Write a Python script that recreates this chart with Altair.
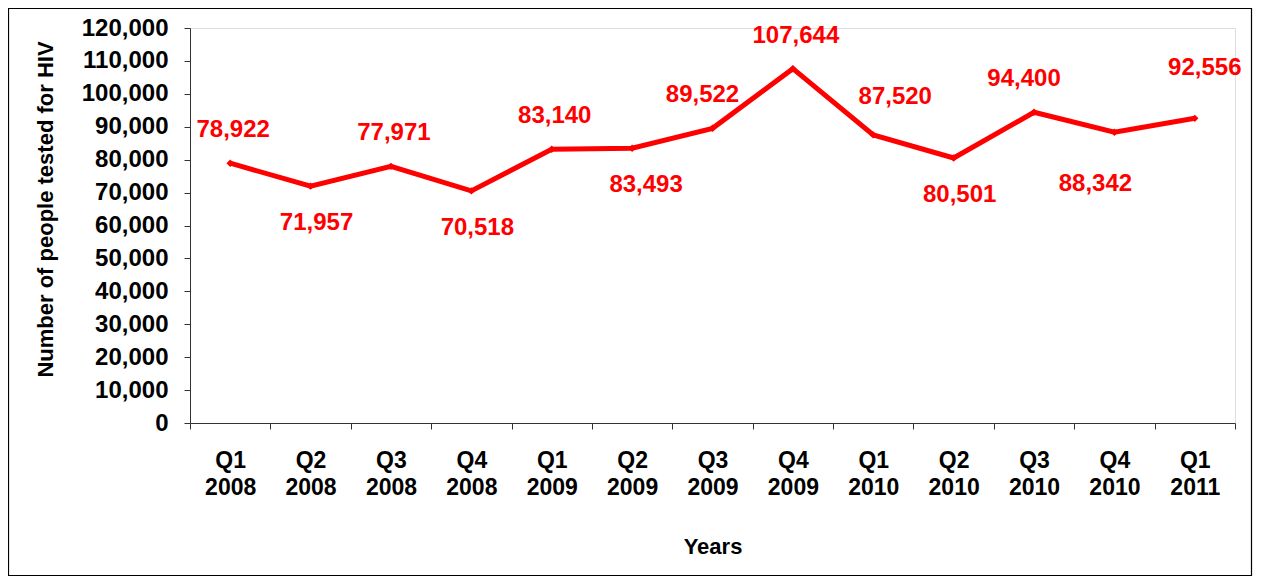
import altair as alt
import pandas as pd

quarters = ["Q1 2008", "Q2 2008", "Q3 2008", "Q4 2008", "Q1 2009", "Q2 2009",
            "Q3 2009", "Q4 2009", "Q1 2010", "Q2 2010", "Q3 2010", "Q4 2010", "Q1 2011"]
tested = [78922, 71957, 77971, 70518, 83140, 83493, 89522, 107644, 87520,
          80501, 94400, 88342, 92556]
label_side = ["above", "below", "above", "below", "above", "below right", "above left",
              "above", "above right", "below", "above left", "below left", "high above"]
y_ticks = list(range(0, 120001, 10000))

df = pd.DataFrame({"quarter": quarters, "tested": tested, "side": label_side})

W, H = 1045, 395
PL, PT, PR, PB = 182, 20, 18, 153

FONT = "Liberation Sans"
RED = "#FF0000"

# label nudges (style) per placement name
NUDGE = {
    "above": (3, -33),
    "below": (6, 37),
    "below right": (14, 37),
    "above left": (-10, -33),
    "above right": (22, -38),
    "below left": (-19, 52),
    "high above": (10, -50),
}

x_enc = alt.X(
    "quarter:N", sort=quarters, bandPosition=0.5,
    scale=alt.Scale(type="band", paddingInner=0, paddingOuter=0),
    axis=alt.Axis(
        title="Years", tickBand="extent", labelAngle=0,
        labelExpr="split(datum.label, ' ')", labelLineHeight=27,
        labelFont=FONT, labelFontSize=23, labelFontWeight="bold", labelColor="black",
        labelPadding=20, labelBaseline="top",
        tickSize=6, tickColor="#333333", domainColor="#333333",
        titleFont=FONT, titleFontSize=22, titleFontWeight="bold", titleColor="black",
        titlePadding=37,
    ),
)
y_enc = alt.Y(
    "tested:Q",
    scale=alt.Scale(domain=[0, 120000], nice=False, zero=True),
    axis=alt.Axis(
        title="Number of people tested for HIV", values=y_ticks, format=",.0f",
        grid=False, tickSize=6, tickColor="#333333", domainColor="#333333",
        labelFont=FONT, labelFontSize=24, labelFontWeight="bold", labelColor="black",
        labelPadding=16,
        titleFont=FONT, titleFontSize=22, titleFontWeight="bold", titleColor="black",
        titleX=-145, titleY=181, titleBaseline="middle", titleAlign="center",
    ),
)

base = alt.Chart(df)

line = base.mark_line(
    color=RED, strokeWidth=5,
    point=alt.OverlayMarkDef(shape="diamond", size=55, filled=True, color=RED),
).encode(x=x_enc, y=y_enc)

text_kw = dict(font=FONT, fontSize=24, fontWeight="bold", color=RED,
               align="center", baseline="middle")
text_layers = []
for side, (ddx, ddy) in NUDGE.items():
    text_layers.append(
        base.transform_filter(alt.datum.side == side)
        .mark_text(dx=ddx, dy=ddy, **text_kw)
        .encode(x=x_enc, y=y_enc, text=alt.Text("tested:Q", format=",.0f"))
    )

border = alt.Chart(pd.DataFrame({"k": [0]})).mark_rect(
    fill=None, stroke="black", strokeWidth=1.2, clip=False
).encode(
    x=alt.value(-PL + 0.5), x2=alt.value(W + PR - 1.5),
    y=alt.value(-PT + 0.5), y2=alt.value(H + PB - 0.5),
)

chart = alt.layer(border, line, *text_layers).properties(
    width=W, height=H,
    autosize=alt.AutoSizeParams(type="none"),
    padding={"left": PL, "top": PT, "right": PR, "bottom": PB},
).configure_view(stroke=None).configure(background="white")

chart.save("out.html", embed_options={"renderer": "svg", "actions": False})
